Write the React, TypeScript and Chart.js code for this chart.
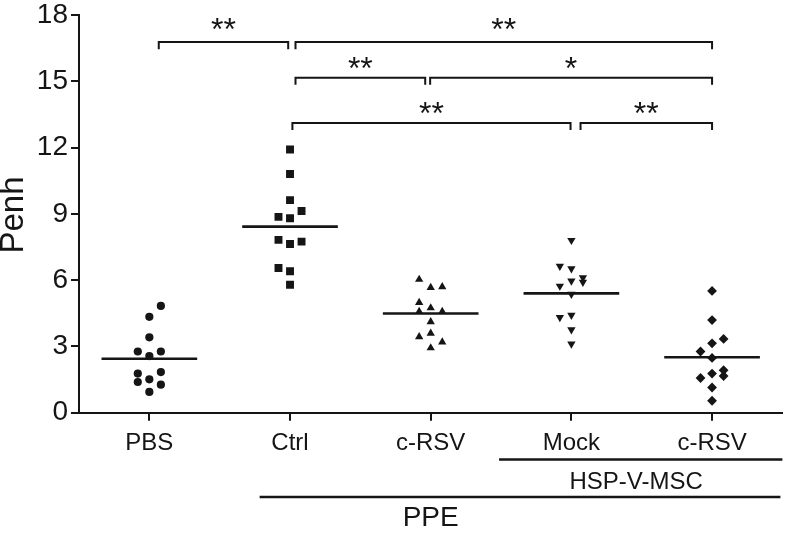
import React, { useEffect, useRef } from "react";
import { Chart, registerables } from "chart.js";

Chart.register(...registerables);

// ---- data ----
const categories = ["PBS", "Ctrl", "c-RSV", "Mock", "c-RSV"];
const yTickValues = [0, 3, 6, 9, 12, 15, 18];

const pbsValues = [4.83, 4.34, 3.41, 2.77, 2.77, 2.56, 1.77, 1.84, 1.39, 1.51, 1.27, 0.94];
const pbsColumns = [1, 0, 0, -1, 1, 0, -1, 1, -1, 0, 1, 0];
const ctrlValues = [11.91, 10.8, 9.62, 9.13, 8.86, 8.8, 7.82, 7.63, 7.74, 6.55, 6.4, 5.79];
const ctrlColumns = [0, 0, 0, 1, -1, 0, -1, 0, 1, -1, 0, 0];
const crsvValues = [6.03, 5.66, 5.7, 4.98, 4.74, 4.58, 4.58, 4.11, 3.59, 3.43, 3.2, 2.93];
const crsvColumns = [-1, 0, 1, -1, 0, -1, 1, 0, 0, -1, 1, 0];
const mockValues = [7.8, 6.63, 6.52, 6.11, 5.91, 5.96, 5.73, 5.36, 4.31, 4.41, 3.76, 3.11];
const mockColumns = [0, -1, 0, 1, 1, 0, -1, 0, -1, 0, 0, 0];
const mscRsvValues = [5.51, 4.19, 3.34, 3.14, 2.77, 2.48, 1.92, 1.77, 1.66, 1.57, 1.14, 0.54];
const mscRsvColumns = [0, 0, 1, 0, -1, 0, 1, 0, 1, -1, 0, 0];
const meanValues = [2.44, 8.42, 4.49, 5.4, 2.51];

// significance brackets (category units / Penh units)
const bracketFrom = [0.067, 1.039, 1.039, 1.996, 1.017, 3.065];
const bracketTo = [0.987, 4.0, 1.961, 4.0, 2.994, 4.0];
const bracketLevel = [16.77, 16.77, 15.16, 15.16, 13.11, 13.11];
const starLevel = [17.6, 17.6, 15.82, 15.82, 13.79, 13.79];
const bracketLabels = ["**", "**", "**", "*", "**", "**"];

// grouping labels under the axis
const groupLabels = ["HSP-V-MSC", "PPE"];
const groupLineFrom = [2.486, 0.784];
const groupLineTo = [4.5, 4.486];
const groupLabelAt = [3.46, 2.0];

const FONT = "'Liberation Sans', Arial, Helvetica, sans-serif";
const INK = "#151515";

export default function App() {
  const ref = useRef<HTMLCanvasElement>(null);

  useEffect(() => {
    const canvas = ref.current!;
    const COL = 0.082;
    const HALF = 0.34;
    const DROP = 0.32;

    const groups = [
      { values: pbsValues, cols: pbsColumns, style: "circle", radius: 4.1, rotation: 0 },
      { values: ctrlValues, cols: ctrlColumns, style: "rect", radius: 5.6, rotation: 0 },
      { values: crsvValues, cols: crsvColumns, style: "triangle", radius: 4.8, rotation: 0 },
      { values: mockValues, cols: mockColumns, style: "triangle", radius: 4.8, rotation: 180 },
      { values: mscRsvValues, cols: mscRsvColumns, style: "rectRot", radius: 4.9, rotation: 0 },
    ];

    const datasets: any[] = [];
    groups.forEach((g, i) => {
      datasets.push({
        type: "scatter",
        data: g.values.map((v, k) => ({ x: i + g.cols[k] * COL, y: v })),
        pointStyle: g.style,
        pointRadius: g.radius,
        pointRotation: g.rotation,
        backgroundColor: INK,
        borderColor: INK,
        borderWidth: 0,
      });
      datasets.push({
        type: "scatter",
        showLine: true,
        data: [
          { x: i - HALF, y: meanValues[i] },
          { x: i + HALF, y: meanValues[i] },
        ],
        borderColor: INK,
        borderWidth: 2.6,
        pointRadius: 0,
      });
    });
    bracketFrom.forEach((f, k) => {
      const t = bracketTo[k];
      const l = bracketLevel[k];
      datasets.push({
        type: "scatter",
        showLine: true,
        data: [
          { x: f, y: l - DROP },
          { x: f, y: l },
          { x: t, y: l },
          { x: t, y: l - DROP },
        ],
        borderColor: INK,
        borderWidth: 2,
        pointRadius: 0,
        clip: false,
      });
    });

    const annotationPlugin = {
      id: "annotations",
      afterDraw(chart: any) {
        const ctx = chart.ctx as CanvasRenderingContext2D;
        const xs = chart.scales.x;
        const ys = chart.scales.y;
        const bottom = chart.chartArea.bottom;
        ctx.save();
        ctx.fillStyle = INK;
        ctx.strokeStyle = INK;

        // stars
        ctx.font = `32px ${FONT}`;
        ctx.textAlign = "center";
        ctx.textBaseline = "alphabetic";
        bracketLabels.forEach((lab, k) => {
          const m = ctx.measureText(lab);
          const cx = xs.getPixelForValue((bracketFrom[k] + bracketTo[k]) / 2);
          const cy = ys.getPixelForValue(starLevel[k]);
          ctx.fillText(lab, cx, cy + (m.actualBoundingBoxAscent - m.actualBoundingBoxDescent) / 2);
        });

        // group lines and labels
        const lineY = [bottom + 46.8, bottom + 84.3];
        const textY = [bottom + 69.8, bottom + 105.3];
        const sizes = [24, 28];
        ctx.lineWidth = 2.4;
        groupLabels.forEach((lab, k) => {
          ctx.beginPath();
          ctx.moveTo(xs.getPixelForValue(groupLineFrom[k]), lineY[k]);
          ctx.lineTo(xs.getPixelForValue(groupLineTo[k]), lineY[k]);
          ctx.stroke();
          ctx.font = `${sizes[k]}px ${FONT}`;
          ctx.textBaseline = "middle";
          ctx.textAlign = "center";
          ctx.fillText(lab, xs.getPixelForValue(groupLabelAt[k]), textY[k]);
        });

        // y title
        ctx.translate(13.5, 215);
        ctx.rotate(-Math.PI / 2);
        ctx.font = `33px ${FONT}`;
        ctx.textAlign = "center";
        ctx.textBaseline = "middle";
        ctx.fillText("Penh", 0, 0);
        ctx.restore();
      },
    };

    const axisGrid = {
      display: true,
      drawOnChartArea: false,
      drawTicks: true,
      tickLength: 8,
      color: INK,
      lineWidth: 2,
    };

    const chart = new Chart(canvas, {
      type: "scatter",
      data: { datasets },
      options: {
        animation: false,
        responsive: false,
        devicePixelRatio: 1,
        events: [],
        layout: { padding: { left: 0, top: 11.7, right: 4, bottom: 537 - 412.7 - 45 } },
        plugins: { legend: { display: false }, tooltip: { enabled: false } },
        scales: {
          x: {
            type: "linear",
            min: -0.5,
            max: 4.5,
            afterBuildTicks: (s: any) => {
              s.ticks = categories.map((_, i) => ({ value: i }));
            },
            afterFit: (s: any) => {
              s.height = 45;
            },
            grid: axisGrid,
            border: { display: true, color: INK, width: 2 },
            ticks: {
              autoSkip: false,
              maxRotation: 0,
              padding: 8,
              color: INK,
              font: { family: FONT, size: 24 },
              callback: (v: any) => categories[Math.round(Number(v))] ?? "",
            },
          },
          y: {
            type: "linear",
            min: 0,
            max: 18,
            afterBuildTicks: (s: any) => {
              s.ticks = yTickValues.map((v) => ({ value: v }));
            },
            afterFit: (s: any) => {
              s.width = 79;
            },
            grid: axisGrid,
            border: { display: true, color: INK, width: 2 },
            ticks: {
              padding: 3,
              color: INK,
              font: { family: FONT, size: 28, lineHeight: 0.85 },
              callback: (v: any) => String(v),
            },
          },
        },
      } as any,
      plugins: [annotationPlugin],
    });

    return () => chart.destroy();
  }, []);

  return (
    <div style={{ position: "absolute", left: 0, top: 0, width: 788, height: 537, background: "#fff" }}>
      <canvas ref={ref} width={788} height={537} style={{ display: "block", width: 788, height: 537 }} />
    </div>
  );
}
